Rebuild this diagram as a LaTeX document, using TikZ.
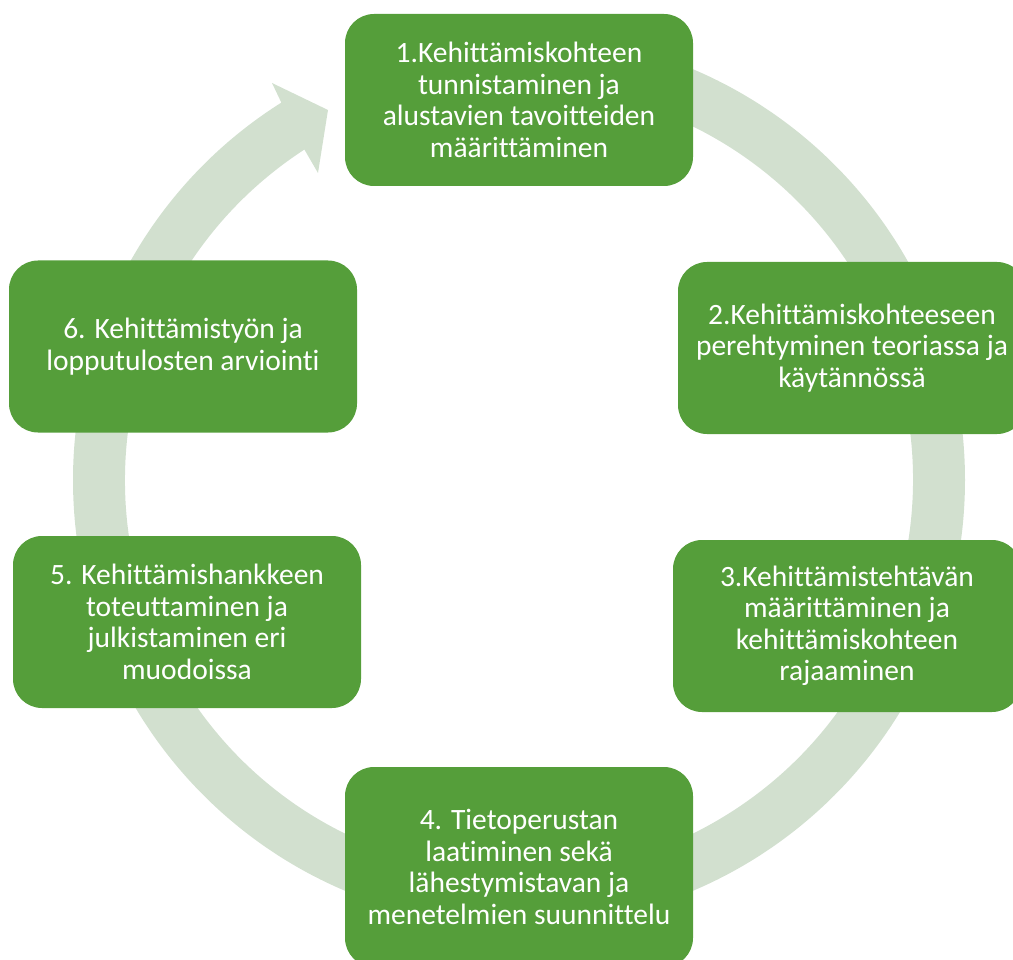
\documentclass[tikz,border=0pt]{standalone}
\usepackage{fontspec}
\setmainfont{Carlito}[Ligatures={NoCommon}]
\usetikzlibrary{calc}
\definecolor{boxgreen}{HTML}{559E3A}
\definecolor{ringgreen}{HTML}{D2E0CF}
\begin{document}
\begin{tikzpicture}[x=1pt,y=-1pt,
  stepbox/.style={draw=none, fill=boxgreen, rounded corners=29pt, text=white,
    align=center, inner sep=0pt, minimum width=348pt, minimum height=172pt,
    font=\fontsize{29.5}{31.5}\selectfont},
  ring/.style={fill=ringgreen, draw=none}]
\useasboundingbox (0,0) rectangle (1013,960);
\clip (0,0) rectangle (1013,960);
\coordinate (c) at (519,480);
\coordinate (wingA) at (272,83);
\coordinate (tip) at (328,110);
\coordinate (wingB) at (318,173);
\fill[ring] ($(c)+(-90:446)$) arc[start angle=-90,end angle=237.8,radius=446]
  -- (wingA) -- (tip) -- (wingB)
  -- ($(c)+(237:394)$) arc[start angle=237,end angle=-90,radius=394] -- cycle;
\node[stepbox] (b1) at (519,100) {1.Kehittämiskohteen\\tunnistaminen ja\\alustavien tavoitteiden\\määrittäminen};
\node[stepbox] (b2) at (852,348) {2.Kehittämiskohteeseen\\perehtyminen teoriassa ja\\käytännössä};
\node[stepbox] (b3) at (847,626) {3.Kehittämistehtävän\\määrittäminen ja\\kehittämiskohteen\\rajaaminen};
\node[stepbox, minimum height=200pt] (b4) at (519,867) {4. Tietoperustan\\laatiminen sekä\\lähestymistavan ja\\menetelmien suunnittelu};
\node[stepbox] (b5) at (187,622) {5. Kehittämishankkeen\\toteuttaminen ja\\julkistaminen eri\\muodoissa};
\node[stepbox] (b6) at (183,346.5) {6. Kehittämistyön ja\\lopputulosten arviointi};
\end{tikzpicture}
\end{document}
